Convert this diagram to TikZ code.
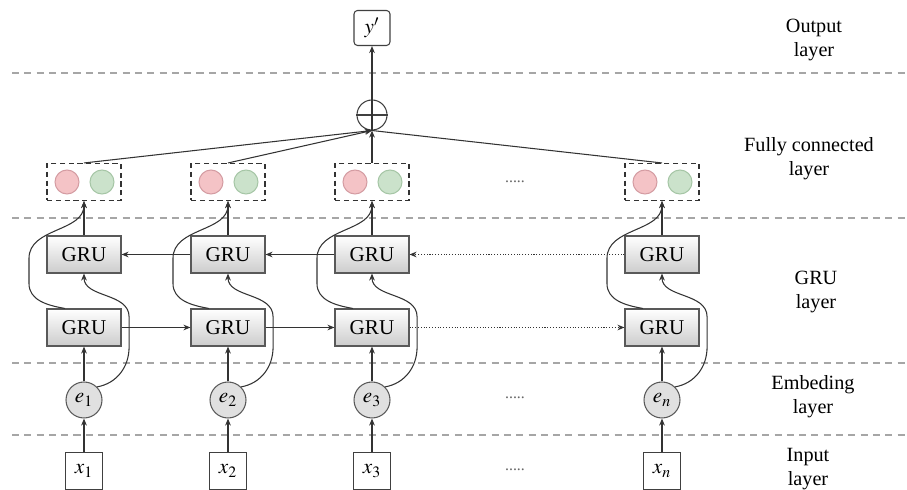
\documentclass[tikz,border=0pt]{standalone}
\usepackage{mathptmx}
\usepackage{fontspec}
\setmainfont{Liberation Serif}
\usetikzlibrary{arrows.meta,positioning}

\definecolor{redfill}{HTML}{F4C3C6}
\definecolor{redline}{HTML}{D49CA2}
\definecolor{greenfill}{HTML}{CBE2CB}
\definecolor{greenline}{HTML}{A6C6A6}

\begin{document}
\begin{tikzpicture}[x=0.02cm, y=0.02cm, >={Stealth[length=4pt,width=3.2pt]}, semithick,
  font=\fontsize{12}{14}\selectfont,
  gru/.style={draw=black!65, top color=white, bottom color=black!20, minimum width=1.48cm, minimum height=0.74cm},
  inbox/.style={draw=black!75, fill=white, minimum size=0.74cm, inner sep=0pt},
  emb/.style={circle, draw=black!65, fill=black!12, minimum size=0.72cm, inner sep=0pt},
  fcbox/.style={draw=black!80, densely dashed, minimum width=1.48cm, minimum height=0.74cm},
  rdot/.style={circle, draw=redline, fill=redfill, minimum size=0.48cm, inner sep=0pt},
  gdot/.style={circle, draw=greenline, fill=greenfill, minimum size=0.48cm, inner sep=0pt},
  sep/.style={black!35, line width=1.1pt, dash pattern=on 4pt off 3pt},
  lab/.style={align=center, font=\fontsize{11.5}{13.7}\selectfont},
  more/.style={black!60, font=\fontsize{9}{9}\selectfont},
  conn/.style={->, black!80}]
  \useasboundingbox (0,0) rectangle (907,490);

  % layer borders
  \draw[sep] (12,417) -- (907,417);
  \draw[sep] (12,272) -- (907,272);
  \draw[sep] (12,127) -- (907,127);
  \draw[sep] (12,55) -- (907,55);

  % output
  \node[draw=black!75, rounded corners=2pt, minimum width=0.72cm, minimum height=0.7cm] (Y) at (372,462) {$y'$};
  \node[circle, draw=black!75, minimum size=0.6cm] (S) at (372,375) {};
  \draw[black!75] (S.west) -- (S.east);
  \draw[conn] (S.south) -- (Y.south);

  % fully connected
  \node[fcbox] (F1) at (84,308) {};
  \node[fcbox] (F2) at (228,308) {};
  \node[fcbox] (F3) at (372,308) {};
  \node[fcbox] (F4) at (662,308) {};
  \node[rdot] (R1) at (67,308) {};  \node[gdot] (G1) at (102,308) {};
  \node[rdot] (R2) at (211,308) {}; \node[gdot] (G2) at (246,308) {};
  \node[rdot] (R3) at (355,308) {}; \node[gdot] (G3) at (390,308) {};
  \node[rdot] (R4) at (645,308) {}; \node[gdot] (G4) at (680,308) {};
  \node[more] (D1) at (515,308) {.....};
  \draw[conn] (F1.north) -- (S.south);
  \draw[conn] (F2.north) -- (S.south);
  \draw[conn] (F3.north) -- (S.south);
  \draw[black!80] (F4.north) -- (S.south);

  % GRU layer
  \node[gru] (GT1) at (84,235.5) {GRU};
  \node[gru] (GT2) at (228,235.5) {GRU};
  \node[gru] (GT3) at (372,235.5) {GRU};
  \node[gru] (GT4) at (662,235.5) {GRU};
  \node[gru] (GB1) at (84,162.5) {GRU};
  \node[gru] (GB2) at (228,162.5) {GRU};
  \node[gru] (GB3) at (372,162.5) {GRU};
  \node[gru] (GB4) at (662,162.5) {GRU};
  \draw[conn] (GB1.east) -- (GB2.west);
  \draw[conn] (GB2.east) -- (GB3.west);
  \draw[conn, densely dotted] (GB3.east) -- (GB4.west);
  \draw[conn, densely dotted] (GT4.west) -- (GT3.east);
  \draw[conn] (GT3.west) -- (GT2.east);
  \draw[conn] (GT2.west) -- (GT1.east);
  \draw[conn] (GT1.north) -- (F1.south);
  \draw[conn] (GT2.north) -- (F2.south);
  \draw[conn] (GT3.north) -- (F3.south);
  \draw[conn] (GT4.north) -- (F4.south);
  \draw[conn] (GB1.135) to[out=170,in=-90] ++(-36,25) -- ++(0,25) to[out=90,in=-90] (F1.south);
  \draw[conn] (GB2.135) to[out=170,in=-90] ++(-36,25) -- ++(0,25) to[out=90,in=-90] (F2.south);
  \draw[conn] (GB3.135) to[out=170,in=-90] ++(-36,25) -- ++(0,25) to[out=90,in=-90] (F3.south);
  \draw[conn] (GB4.135) to[out=170,in=-90] ++(-36,25) -- ++(0,25) to[out=90,in=-90] (F4.south);

  % embedding
  \node[emb] (E1) at (84,90) {$e_1$};
  \node[emb] (E2) at (228,90) {$e_2$};
  \node[emb] (E3) at (372,90) {$e_3$};
  \node[emb] (E4) at (662,90) {$e_n$};
  \node[more] (D2) at (515,92) {.....};
  \draw[conn] (E1.north) -- (GB1.south);
  \draw[conn] (E2.north) -- (GB2.south);
  \draw[conn] (E3.north) -- (GB3.south);
  \draw[conn] (E4.north) -- (GB4.south);
  \draw[conn] (E1.north east) to[out=10,in=-90] ++(32,40) -- ++(0,30) to[out=90,in=-90] (GT1.south);
  \draw[conn] (E2.north east) to[out=10,in=-90] ++(32,40) -- ++(0,30) to[out=90,in=-90] (GT2.south);
  \draw[conn] (E3.north east) to[out=10,in=-90] ++(32,40) -- ++(0,30) to[out=90,in=-90] (GT3.south);
  \draw[conn] (E4.north east) to[out=10,in=-90] ++(32,40) -- ++(0,30) to[out=90,in=-90] (GT4.south);

  % input
  \node[inbox] (X1) at (84,19) {$x_1$};
  \node[inbox] (X2) at (228,19) {$x_2$};
  \node[inbox] (X3) at (372,19) {$x_3$};
  \node[inbox] (X4) at (662,19) {$x_n$};
  \node[more] (D3) at (515,20) {.....};
  \draw[conn] (X1.north) -- (E1.south);
  \draw[conn] (X2.north) -- (E2.south);
  \draw[conn] (X3.north) -- (E3.south);
  \draw[conn] (X4.north) -- (E4.south);

  % layer names
  \node[lab] (L1) at (814,450) {Output\\layer};
  \node[lab] (L2) at (809,331) {Fully connected\\layer};
  \node[lab] (L3) at (816,198) {GRU\\layer};
  \node[lab] (L4) at (813,93) {Embeding\\layer};
  \node[lab] (L5) at (808,21) {Input\\layer};
\end{tikzpicture}
\end{document}
